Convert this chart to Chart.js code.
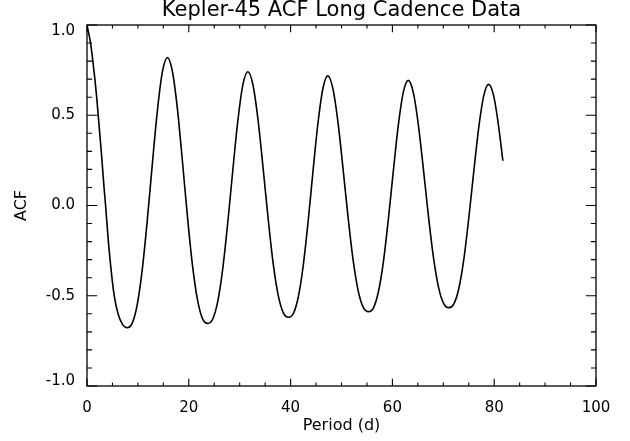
<!DOCTYPE html>
<html>
<head>
<meta charset="utf-8">
<script src="https://cdn.jsdelivr.net/npm/chart.js@4.4.1/dist/chart.umd.min.js"></script>
<style>
  html, body { margin: 0; padding: 0; background: #ffffff; }
  #wrap { width: 630px; height: 441px; }
</style>
</head>
<body>
<div id="wrap"><canvas id="c" width="630" height="441"></canvas></div>
<script>
const chartTitle = 'Kepler-45 ACF Long Cadence Data';
const xTitle = 'Period (d)';
const yTitle = 'ACF';

const periods = [0, 0.7, 1.15, 1.55, 1.9, 2.2, 2.8, 3.35, 3.65, 4.2, 4.9, 5.35, 6.1, 7.0, 7.9,
  8.89, 9.88, 10.86, 11.85, 12.84, 13.83, 14.81, 15.8,
  16.79, 17.78, 18.76, 19.75, 20.74, 21.73, 22.71, 23.7,
  24.69, 25.68, 26.66, 27.65, 28.64, 29.63, 30.61, 31.6,
  32.6, 33.6, 34.6, 35.6, 36.6, 37.6, 38.6, 39.6,
  40.56, 41.53, 42.49, 43.45, 44.41, 45.38, 46.34, 47.3,
  48.3, 49.3, 50.3, 51.3, 52.3, 53.3, 54.3, 55.3,
  56.28, 57.25, 58.23, 59.2, 60.18, 61.15, 62.13, 63.1,
  64.1, 65.1, 66.1, 67.1, 68.1, 69.1, 70.1, 71.1,
  72.08, 73.05, 74.03, 75.0, 75.98, 76.95, 77.93, 78.9,
  79.9, 80.9, 81.7];

const acf = [1.0, 0.9, 0.8, 0.7, 0.6, 0.5, 0.3, 0.1, 0.0, -0.2, -0.4, -0.5, -0.6, -0.66, -0.677,
  -0.652, -0.548, -0.354, -0.080, 0.232, 0.526, 0.740, 0.819,
  0.741, 0.531, 0.241, -0.066, -0.336, -0.526, -0.628, -0.653,
  -0.630, -0.533, -0.352, -0.097, 0.194, 0.468, 0.667, 0.741,
  0.669, 0.475, 0.207, -0.076, -0.326, -0.502, -0.596, -0.619,
  -0.597, -0.504, -0.331, -0.086, 0.193, 0.457, 0.647, 0.718,
  0.649, 0.463, 0.205, -0.067, -0.306, -0.476, -0.566, -0.588,
  -0.567, -0.478, -0.312, -0.077, 0.190, 0.442, 0.625, 0.693,
  0.627, 0.447, 0.199, -0.064, -0.294, -0.458, -0.545, -0.566,
  -0.545, -0.460, -0.299, -0.072, 0.186, 0.429, 0.606, 0.671,
  0.607, 0.432, 0.248];

const xMajorTicks = [0, 20, 40, 60, 80, 100];
const xMinorTicks = [5, 10, 15, 25, 30, 35, 45, 50, 55, 65, 70, 75, 85, 90, 95];
const yMajorTicks = [-1.0, -0.5, 0.0, 0.5, 1.0];
const yMinorTicks = [-0.9, -0.8, -0.7, -0.6, -0.4, -0.3, -0.2, -0.1, 0.1, 0.2, 0.3, 0.4, 0.6, 0.7, 0.8, 0.9];

const FONT = "'DejaVu Sans', sans-serif";
const TEXT_WEIGHT = 'normal';

const frameTicks = {
  id: 'frameTicks',
  afterDatasetsDraw(chart) {
    const {ctx, chartArea: a, scales: {x, y}} = chart;
    ctx.save();
    ctx.strokeStyle = '#000';
    ctx.lineWidth = 1.3;
    ctx.strokeRect(a.left, a.top, a.right - a.left, a.bottom - a.top);
    ctx.lineWidth = 1.1;
    ctx.beginPath();
    const xMaj = 7.2, xMin = 3.6, yMaj = 10.2, yMin = 5.1;
    xMajorTicks.forEach(v => { const p = x.getPixelForValue(v);
      ctx.moveTo(p, a.bottom); ctx.lineTo(p, a.bottom - xMaj);
      ctx.moveTo(p, a.top); ctx.lineTo(p, a.top + xMaj); });
    xMinorTicks.forEach(v => { const p = x.getPixelForValue(v);
      ctx.moveTo(p, a.bottom); ctx.lineTo(p, a.bottom - xMin);
      ctx.moveTo(p, a.top); ctx.lineTo(p, a.top + xMin); });
    yMajorTicks.forEach(v => { const p = y.getPixelForValue(v);
      ctx.moveTo(a.left, p); ctx.lineTo(a.left + yMaj, p);
      ctx.moveTo(a.right, p); ctx.lineTo(a.right - yMaj, p); });
    yMinorTicks.forEach(v => { const p = y.getPixelForValue(v);
      ctx.moveTo(a.left, p); ctx.lineTo(a.left + yMin, p);
      ctx.moveTo(a.right, p); ctx.lineTo(a.right - yMin, p); });
    ctx.stroke();
    // y tick labels (end labels nudged inside the frame, as in the original plot)
    ctx.fillStyle = '#000';
    ctx.font = TEXT_WEIGHT + ' 15px ' + FONT;
    ctx.textAlign = 'right';
    ctx.textBaseline = 'middle';
    yMajorTicks.forEach(v => {
      let p = y.getPixelForValue(v);
      if (v === y.max) p += 6;
      if (v === y.min) p -= 5;
      ctx.fillText(v.toFixed(1), a.left - 12, p);
    });
    ctx.restore();
  }
};

new Chart(document.getElementById('c'), {
  type: 'line',
  data: {
    datasets: [{
      data: periods.map((p, i) => ({x: p, y: acf[i]})),
      borderColor: '#000',
      borderWidth: 1.6,
      pointRadius: 0,
      fill: false,
      cubicInterpolationMode: 'monotone'
    }]
  },
  options: {
    responsive: false,
    animation: false,
    layout: { padding: { left: 0, right: 34, top: 0, bottom: 0 } },
    plugins: {
      legend: { display: false },
      tooltip: { enabled: false },
      title: { display: false }
    },
    scales: {
      x: {
        type: 'linear', min: 0, max: 100,
        afterBuildTicks: s => { s.ticks = xMajorTicks.map(v => ({value: v})); },
        afterFit: s => { s.height = 55; },
        grid: { display: false, drawTicks: false },
        border: { display: false },
        ticks: { color: '#000', padding: 13, maxRotation: 0,
          font: { family: FONT, size: 15, weight: TEXT_WEIGHT },
          callback: v => String(v) },
        title: { display: true, text: xTitle, color: '#000',
          font: { family: FONT, size: 16, weight: TEXT_WEIGHT },
          padding: { top: 0, bottom: 6 } }
      },
      xTop: {
        type: 'linear', position: 'top', min: 0, max: 100,
        afterFit: s => { s.height = 25; },
        grid: { display: false, drawTicks: false },
        border: { display: false },
        ticks: { display: false },
        title: { display: true, text: chartTitle, color: '#000',
          font: { family: FONT, size: 21, weight: TEXT_WEIGHT, lineHeight: 1.0 },
          padding: { top: 0, bottom: 0 } }
      },
      y: {
        type: 'linear', min: -1, max: 1,
        afterBuildTicks: s => { s.ticks = yMajorTicks.map(v => ({value: v})); },
        afterFit: s => { s.width = 87; },
        grid: { display: false, drawTicks: false },
        border: { display: false },
        ticks: { display: false },
        title: { display: true, text: yTitle, color: '#000',
          font: { family: FONT, size: 16, weight: TEXT_WEIGHT },
          padding: { top: 12, bottom: 0 } }
      }
    }
  },
  plugins: [frameTicks]
});
</script>
</body>
</html>
